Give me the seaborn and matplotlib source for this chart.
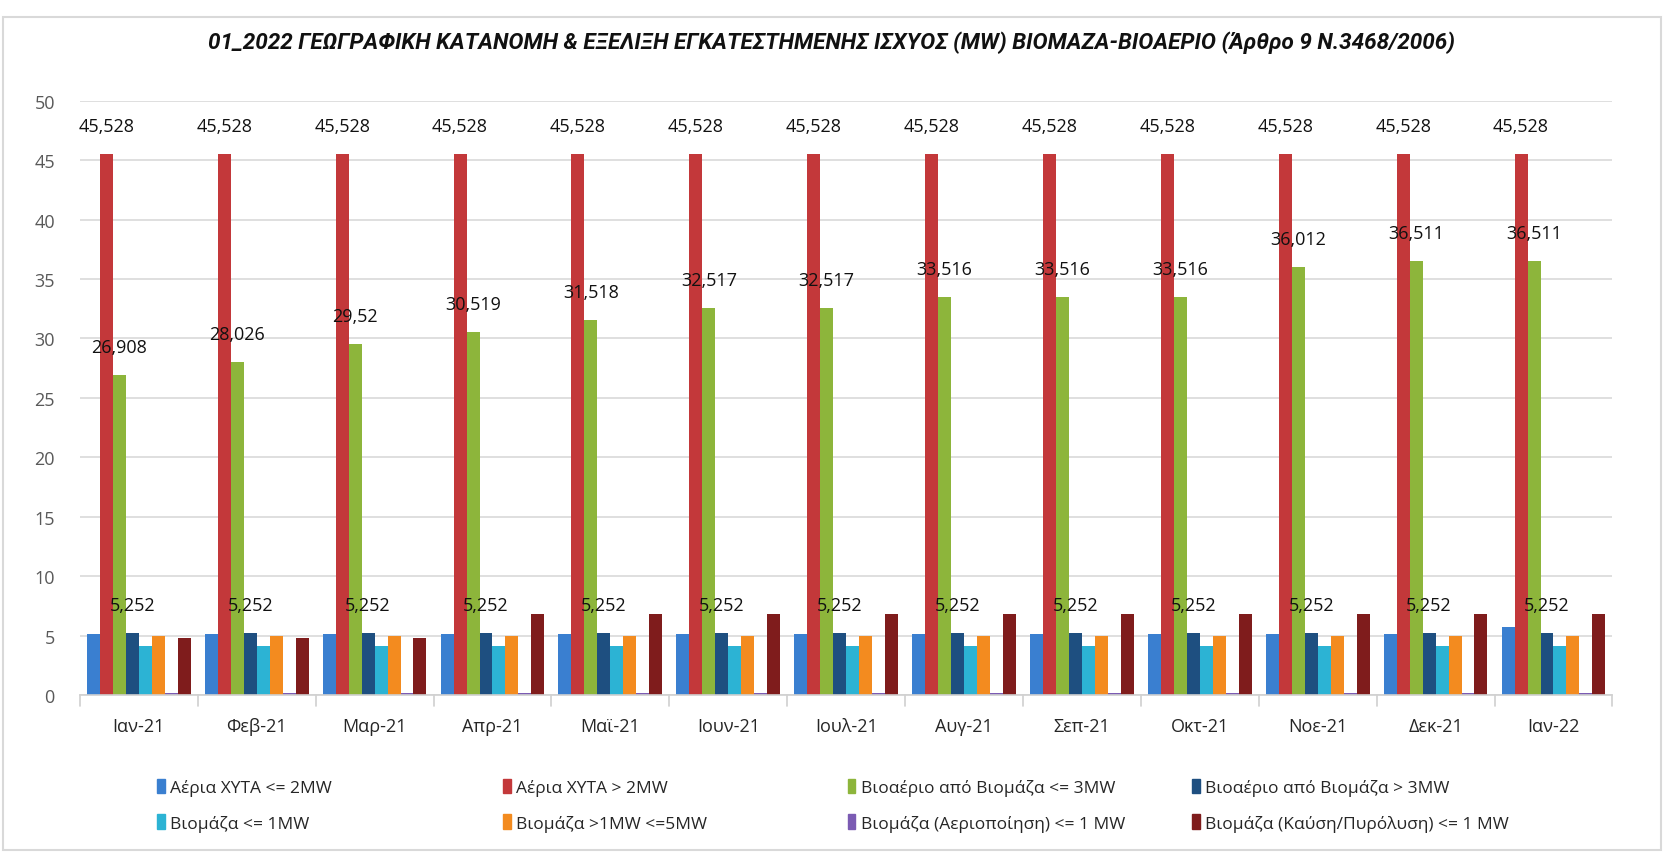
import seaborn as sns
import matplotlib.pyplot as plt
import matplotlib.patches as mpatches
import pandas as pd

months = ['Ιαν-21', 'Φεβ-21', 'Μαρ-21', 'Απρ-21', 'Μαϊ-21', 'Ιουν-21', 'Ιουλ-21',
          'Αυγ-21', 'Σεπ-21', 'Οκτ-21', 'Νοε-21', 'Δεκ-21', 'Ιαν-22']

series = ['Αέρια ΧΥΤΑ <= 2MW', 'Αέρια ΧΥΤΑ > 2MW', 'Βιοαέριο από Βιομάζα <= 3MW',
          'Βιοαέριο από Βιομάζα > 3MW', 'Βιομάζα <= 1MW', 'Βιομάζα >1MW <=5MW',
          'Βιομάζα (Αεριοποίηση) <= 1 MW', 'Βιομάζα (Καύση/Πυρόλυση) <= 1 MW']

xyta_small = [5.1, 5.1, 5.1, 5.1, 5.1, 5.1, 5.1, 5.1, 5.1, 5.1, 5.1, 5.1, 5.7]
xyta_big = [45.528] * 13
biogas_small = [26.908, 28.026, 29.52, 30.519, 31.518, 32.517, 32.517,
                33.516, 33.516, 33.516, 36.012, 36.511, 36.511]
biogas_big = [5.252] * 13
biomass_1 = [4.1] * 13
biomass_5 = [5.0] * 13
gasification = [0.15] * 13
combustion = [4.8, 4.8, 4.8, 6.8, 6.8, 6.8, 6.8, 6.8, 6.8, 6.8, 6.8, 6.8, 6.8]

colors = ['#3a7fd0', '#c3383a', '#8db53b', '#1e4f80', '#2cb3d4', '#f38b1f', '#7b5bb3', '#7f1c1c']
labelled = [1, 2, 3]

values = [xyta_small, xyta_big, biogas_small, biogas_big, biomass_1, biomass_5, gasification, combustion]
rows = []
for s, vals in zip(series, values):
    for m, v in zip(months, vals):
        rows.append({'month': m, 'series': s, 'value': v})
df = pd.DataFrame(rows)

sns.set_style('white')
plt.rcParams['font.family'] = ['Open Sans', 'DejaVu Sans']

fig = plt.figure(figsize=(16.64, 8.54), dpi=100)
ax = fig.add_axes([0.048, 0.185, 0.921, 0.696])

sns.barplot(data=df, x='month', y='value', hue='series', hue_order=series,
            palette=colors, width=0.88, ax=ax, legend=False, saturation=1)

for i, cont in enumerate(ax.containers):
    for bar in cont:
        bar.set_edgecolor('none')
    if i in labelled:
        for bar, v in zip(cont, values[i]):
            txt = ('%.3f' % v).rstrip('0').rstrip('.').replace('.', ',')
            ax.text(bar.get_x() + bar.get_width() / 2, bar.get_height() + 1.6, txt,
                    ha='center', va='bottom', fontsize=13, color='#111111')

ax.set_ylim(0, 50)
ax.set_yticks(range(0, 51, 5))
ax.set_xlim(-0.5, len(months) - 0.5)
ax.yaxis.grid(True, color='#d9d9d9', linewidth=1.2)
ax.set_axisbelow(True)
for s in ['top', 'right', 'left']:
    ax.spines[s].set_visible(False)
ax.spines['bottom'].set_color('#d0d0d0')
ax.spines['bottom'].set_linewidth(1.2)
ax.tick_params(axis='y', colors='#595959', labelsize=13, length=0, pad=18)
ax.tick_params(axis='x', labelsize=13, length=0, pad=16, labelcolor='#262626')
for k in range(len(months) + 1):
    ax.plot([k - 0.5, k - 0.5], [0, -0.9], color='#d0d0d0', lw=1.2, clip_on=False)
ax.set_xlabel('')
ax.set_ylabel('')

fig.text(0.5, 0.95, '01_2022 ΓΕΩΓΡΑΦΙΚΗ ΚΑΤΑΝΟΜΗ & ΕΞΕΛΙΞΗ ΕΓΚΑΤΕΣΤΗΜΕΝΗΣ ΙΣΧΥΟΣ (MW) ΒΙΟΜΑΖΑ-ΒΙΟΑΕΡΙΟ (Άρθρο 9 Ν.3468/2006)',
         ha='center', va='center', fontsize=16.2, fontweight='bold', fontstyle='italic',
         family=['Roboto', 'DejaVu Sans'], color='#111111')

col_x = [0.085, 0.293, 0.5, 0.707]
for c in range(4):
    handles = [mpatches.Patch(color=colors[c], label=series[c]),
               mpatches.Patch(color=colors[c + 4], label=series[c + 4])]
    fig.legend(handles=handles, loc='upper left', bbox_to_anchor=(col_x[c], 0.105),
               frameon=False, fontsize=12.5, handlelength=0.45, handleheight=0.9,
               handletextpad=0.3, labelspacing=1.05)

fig.patches.append(mpatches.Rectangle((0.002, 0.004), 0.996, 0.975, transform=fig.transFigure,
                                      fill=False, edgecolor='#d9d9d9', linewidth=1.5))

plt.savefig('out.png', dpi=100)
